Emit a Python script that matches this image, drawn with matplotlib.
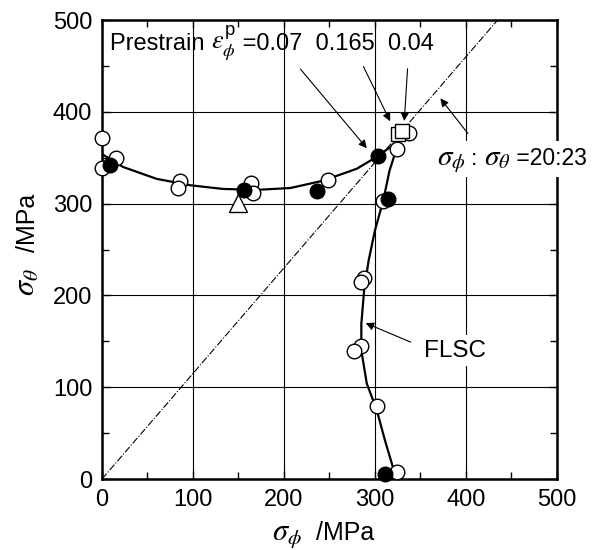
# Forming limit stress curve (FLSC) plot, sigma_phi vs sigma_theta.

import matplotlib
matplotlib.use("Agg")
import matplotlib.pyplot as plt
from matplotlib.ticker import MultipleLocator
from matplotlib.offsetbox import TextArea, HPacker, AnnotationBbox

plt.rcParams["font.family"] = ["Liberation Sans", "DejaVu Sans"]
plt.rcParams["mathtext.fontset"] = "custom"
plt.rcParams["mathtext.rm"] = "Liberation Sans"
plt.rcParams["mathtext.sf"] = "Liberation Sans"
plt.rcParams["mathtext.it"] = "STIXGeneral:italic"

# measured points (MPa)
open_x = [0, 0, 15, 86, 83, 164, 166, 248, 324, 337, 309, 288, 285, 285, 277, 302, 324]
open_y = [372, 339, 350, 325, 317, 322, 312, 326, 359, 377, 303, 219, 215, 145, 140, 80, 8]
filled_x = [9, 156, 236, 303, 314, 311]
filled_y = [342, 315, 314, 352, 305, 5]
square_x = [325, 330]
square_y = [376, 379]
tri_x = [149]
tri_y = [301]

# FLSC curves
upper_x = [0, 23, 60, 97, 133, 170, 207, 243, 280, 302, 316, 325]
upper_y = [354, 340, 327, 320, 316, 315, 317, 325, 338, 351, 361, 366]
right_x = [325, 316, 309, 300, 293, 288, 285, 285, 291, 302, 311, 320]
right_y = [364, 336, 303, 271, 238, 205, 169, 140, 104, 75, 42, 12]

# stress ratio line sigma_phi : sigma_theta
ratio = (20, 23)

FS = 17      # normal text
GS = 21      # greek letters drawn a bit larger, like the original


def mixed(parts):
    # parts: list of (text, fontsize) packed on one baseline
    boxes = [TextArea(t, textprops=dict(fontsize=s)) for t, s in parts]
    return HPacker(children=boxes, align="baseline", pad=0, sep=0)


fig = plt.figure(figsize=(5.95, 5.5), dpi=100)
ax = fig.add_axes([0.1714, 0.129, 0.7647, 0.8346])

ax.set_xlim(0, 500)
ax.set_ylim(0, 500)
ax.xaxis.set_major_locator(MultipleLocator(100))
ax.yaxis.set_major_locator(MultipleLocator(100))
ax.xaxis.set_minor_locator(MultipleLocator(50))
ax.yaxis.set_minor_locator(MultipleLocator(50))
ax.grid(True, which="major", color="black", linewidth=0.8)
ax.tick_params(which="both", direction="in", top=True, right=True, labelsize=FS, pad=7)
ax.tick_params(which="major", length=6, width=1)
ax.tick_params(which="minor", length=5, width=1)
for sp in ax.spines.values():
    sp.set_linewidth(1.8)
    sp.set_zorder(3)

ax.plot([0, 500 * ratio[0] / ratio[1]], [0, 500], color="black", linestyle="-.", linewidth=0.8, zorder=2)

ax.plot(upper_x, upper_y, color="black", linewidth=1.6, zorder=3)
ax.plot(right_x, right_y, color="black", linewidth=1.6, zorder=3)

ax.plot(open_x, open_y, "o", ms=10.5, mfc="white", mec="black", mew=1.0, zorder=4, clip_on=False)
ax.plot(filled_x, filled_y, "o", ms=10.5, mfc="black", mec="black", mew=1.0, zorder=5, clip_on=False)
ax.plot(square_x, square_y, "s", ms=10, mfc="white", mec="black", mew=1.0, zorder=6)
ax.plot(tri_x, tri_y, "^", ms=13, mfc="white", mec="black", mew=1.0, zorder=4)

# axis labels, sigma bigger than the unit text
fig.text(272 / 595, 10 / 550, r"$\sigma_{\phi}$", fontsize=GS + 1, va="baseline", ha="left")
fig.text(316 / 595, 10 / 550, "/MPa", fontsize=FS + 1, va="baseline", ha="left")
fig.text(35 / 595, 1 - 296 / 550, r"$\sigma_{\theta}$", fontsize=GS + 1, rotation=90,
         rotation_mode="anchor", va="baseline", ha="left")
fig.text(35 / 595, 1 - 252 / 550, "/MPa", fontsize=FS + 1, rotation=90,
         rotation_mode="anchor", va="baseline", ha="left")

# annotations
pre = mixed([("Prestrain ", FS), (r"$\varepsilon_{\phi}^{\mathrm{p}}$", GS - 2), (" =0.07  0.165  0.04", FS)])
ax.add_artist(AnnotationBbox(pre, (9, 474), box_alignment=(0, 0.5), frameon=False, zorder=7))

arrow = dict(arrowstyle="-|>", color="black", linewidth=0.8, mutation_scale=12)
ax.annotate("", xy=(293, 358), xytext=(216, 449), arrowprops=arrow, zorder=7)
ax.annotate("", xy=(318, 387), xytext=(286, 452), arrowprops=arrow, zorder=7)
ax.annotate("", xy=(332, 387), xytext=(336, 450), arrowprops=arrow, zorder=7)
ax.annotate("", xy=(370, 417), xytext=(404, 374), arrowprops=arrow, zorder=7)

rat = mixed([(r"$\sigma_{\phi}$", GS), (" : ", FS - 1), (r"$\sigma_{\theta}$", GS), (" =20:23", FS - 0.5)])
ab = AnnotationBbox(rat, (368, 349), box_alignment=(0, 0.5), frameon=True, pad=0.15,
                    bboxprops=dict(facecolor="white", edgecolor="none"), zorder=8,
                    annotation_clip=False)
ab.set_clip_on(False)
ax.add_artist(ab)

ax.annotate("", xy=(287, 171), xytext=(342, 148), arrowprops=arrow, zorder=7)
ax.text(354, 140, "FLSC", fontsize=FS + 0.5, va="center", ha="left",
        bbox=dict(facecolor="white", edgecolor="none", pad=3), zorder=8)

fig.savefig("out.png", dpi=100)
